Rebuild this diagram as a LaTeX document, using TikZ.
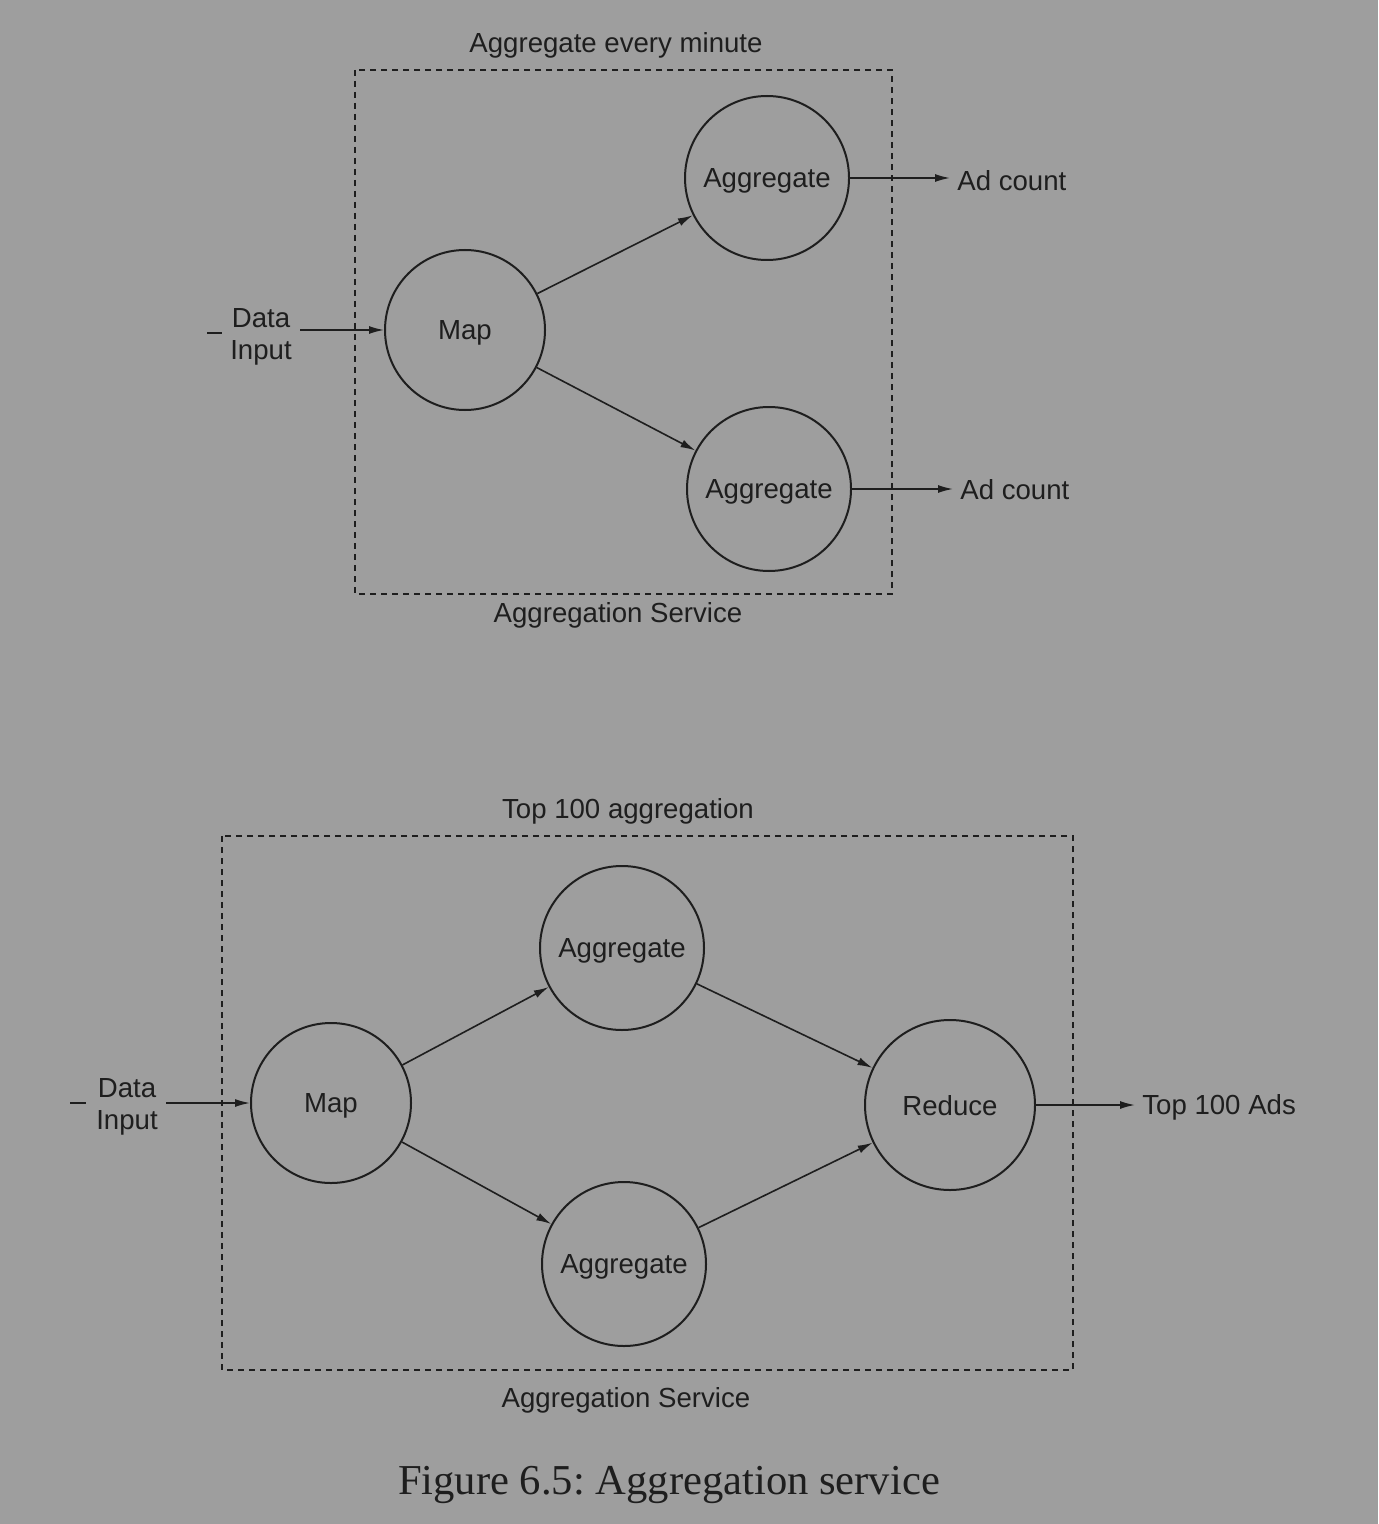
\documentclass[tikz,border=0pt]{standalone}
\usepackage{fontspec}
\setmainfont{Liberation Sans}
\newfontfamily\capfont{Liberation Serif}
\usetikzlibrary{arrows.meta}
\frenchspacing
\definecolor{bg}{RGB}{158,158,158}
\definecolor{ink}{RGB}{30,30,30}
\tikzset{
  lbl/.style={font=\fontsize{13.8}{16}\selectfont, text=ink, inner sep=0pt},
  proc/.style={circle, draw=ink, line width=1pt, font=\fontsize{13.8}{16}\selectfont, text=ink, inner sep=0pt, text depth=0pt},
  arr/.style={draw=ink, line width=0.8pt, -{Latex[length=7.5pt,width=4pt]}},
  svcbox/.style={draw=ink, line width=0.8pt, dash pattern=on 3pt off 2.5pt},
  tick/.style={draw=ink, line width=1pt}
}
\begin{document}
\begin{tikzpicture}[x=0.5pt,y=-0.5pt]
\fill[bg] (0,0) rectangle (1378,1524);
\useasboundingbox (0,0) rectangle (1378,1524);

% ---------- top diagram ----------
\node[lbl] (t1) at (616,45) {Aggregate every minute};
\draw[svcbox] (355,70) rectangle (892,594);
\node[lbl] (s1) at (618,615) {Aggregation Service};

\node[proc, minimum size=80pt] (map1) at (465,330) {Map};
\node[proc, minimum size=82pt] (agga) at (767,178) {Aggregate};
\node[proc, minimum size=82pt] (aggb) at (769,489) {Aggregate};

\node[lbl, align=center, inner xsep=4pt] (din1) at (261,337) {Data\\Input};
\draw[tick] (207,333) -- (222,333);
\draw[arr] (din1.east |- map1.west) -- (map1.west);

\draw[arr] (map1) -- (agga);
\draw[arr] (map1) -- (aggb);

\node[lbl, anchor=west, inner xsep=3.5pt] (oa) at (950,181) {Ad count};
\node[lbl, anchor=west, inner xsep=3.5pt] (ob) at (953,490) {Ad count};
\draw[arr] (agga.east) -- (agga.east -| oa.west);
\draw[arr] (aggb.east) -- (aggb.east -| ob.west);

% ---------- bottom diagram ----------
\node[lbl] (t2) at (628,811) {Top 100 aggregation};
\draw[svcbox] (222,836) rectangle (1073,1370);
\node[lbl] (s2) at (626,1400) {Aggregation Service};

\node[proc, minimum size=80pt] (map2) at (331,1103) {Map};
\node[proc, minimum size=82pt] (aggc) at (622,948) {Aggregate};
\node[proc, minimum size=82pt] (aggd) at (624,1264) {Aggregate};
\node[proc, minimum size=85pt] (red) at (950,1105) {Reduce};

\node[lbl, align=center, inner xsep=4pt] (din2) at (127,1107) {Data\\Input};
\draw[tick] (70,1103) -- (86,1103);
\draw[arr] (din2.east |- map2.west) -- (map2.west);

\draw[arr] (map2) -- (aggc);
\draw[arr] (map2) -- (aggd);
\draw[arr] (aggc) -- (red);
\draw[arr] (aggd) -- (red);

\node[lbl, anchor=west, inner xsep=3.5pt] (otop) at (1135,1107) {Top 100 Ads};
\draw[arr] (red.east) -- (red.east -| otop.west);

% ---------- caption ----------
\node[font=\capfont\fontsize{21.3}{25}\selectfont, text=ink, inner sep=0pt] (cap) at (669,1485) {Figure 6.5: Aggregation service};
\end{tikzpicture}
\end{document}
